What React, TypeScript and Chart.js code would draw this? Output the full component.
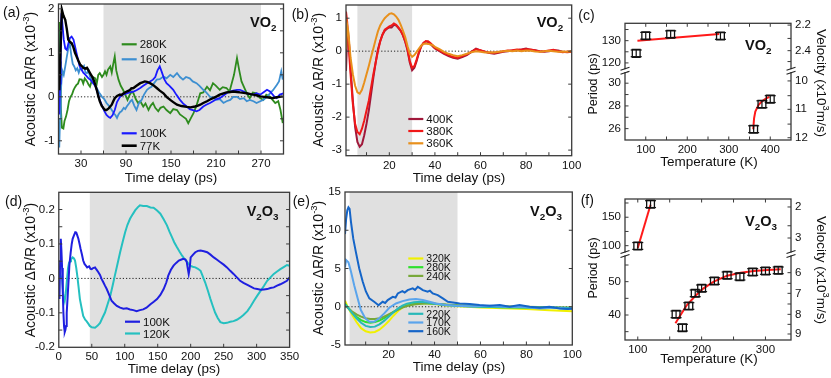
import React, { useEffect, useRef } from 'react';
import { Chart, registerables } from 'chart.js';

Chart.register(...registerables);

const FONT = "'Liberation Sans', Arial, Helvetica, sans-serif";
type P = [number, number];

// ---------------- (a) VO2 low temperature: time (ps) vs acoustic dR/R (x1e-3)
const a77: P[] = [[1,0.15],[3,1.2],[4.5,1.98],[6.5,1.85],[9,1.75],[11,1.55],[13,1.3],[15,1.25],[17.5,1.22],[20,1.12],[22,1.0],[24,0.92],[26.5,0.82],[29,0.73],[31,0.7],[33,0.66],[35.5,0.64],[38,0.66],[40,0.6],[42,0.54],[44,0.48],[46,0.42],[48.5,0.3],[51,0.16],[53,0.02],[55,-0.1],[57.5,-0.2],[60,-0.26],[62,-0.3],[64,-0.3],[66.5,-0.27],[69,-0.22],[71,-0.18],[73,-0.1],[75,-0.03],[78,0.02],[82,0.05],[84,0.04],[86,0.07],[91,0.12],[95,0.15],[97,0.19],[100,0.2],[104,0.25],[109,0.31],[112,0.33],[115,0.35],[118,0.34],[122,0.31],[126,0.27],[131,0.2],[135,0.14],[140,0.08],[144,0.0],[149,-0.07],[153,-0.12],[158,-0.18],[164,-0.21],[171,-0.23],[176,-0.24],[182,-0.22],[186,-0.2],[189,-0.18],[193,-0.14],[198,-0.1],[202,-0.06],[206,-0.03],[211,0.01],[215,0.05],[220,0.08],[224,0.1],[229,0.11],[233,0.12],[238,0.11],[242,0.1],[247,0.09],[251,0.08],[256,0.06],[260,0.05],[265,0.03],[269,0.01],[274,0.0],[278,-0.01],[282,-0.02],[286,-0.03],[291,-0.01],[295,0.0],[299,0.01]];
const a100: P[] = [[1,-0.4],[2,0.3],[3,1.5],[4,1.9],[5,1.7],[7,1.3],[9,1.1],[11,1.07],[13,1.2],[15,1.33],[17.5,1.37],[20,1.3],[22,1.15],[24,1.0],[26,0.85],[28,0.7],[31,0.61],[33,0.55],[36,0.5],[40,0.42],[43,0.38],[46,0.31],[49,0.25],[52,0.1],[55,-0.07],[58,-0.2],[61,-0.32],[64,-0.41],[67,-0.46],[69,-0.48],[72,-0.42],[75,-0.3],[78,-0.12],[82,0.0],[86,0.05],[91,0.08],[95,0.1],[100,0.12],[104,0.15],[109,0.2],[113,0.25],[118,0.31],[122,0.35],[126,0.39],[129,0.45],[132,0.6],[135,0.69],[138,0.55],[141,0.4],[144,0.31],[148,0.25],[153,0.16],[157,0.05],[162,-0.07],[166,-0.15],[171,-0.22],[175,-0.28],[179,-0.3],[184,-0.33],[188,-0.3],[193,-0.22],[197,-0.18],[202,-0.14],[206,-0.1],[211,-0.05],[215,-0.03],[220,0.03],[224,0.08],[229,0.12],[233,0.14],[238,0.16],[242,0.16],[247,0.12],[251,0.08],[255,0.06],[260,0.05],[264,0.08],[269,0.05],[273,0.1],[278,0.16],[282,0.12],[287,0.02],[291,-0.03],[295,0.05],[300,0.08]];
const a160: P[] = [[1,-1.15],[2,-0.5],[3,0.1],[5,0.6],[7,0.5],[9,0.69],[11,0.9],[13,1.1],[15,1.22],[17,0.95],[19,0.75],[21,0.69],[23,0.6],[25,0.65],[27,0.55],[29,0.65],[31,0.62],[34,0.7],[36,0.55],[38,0.54],[40,0.6],[42,0.45],[44,0.39],[47,0.35],[49,0.25],[51,0.2],[54,0.1],[56,0.05],[58,0.0],[61,-0.05],[64,-0.14],[67,-0.2],[69,-0.25],[71,-0.3],[74,-0.38],[76,-0.42],[78,-0.48],[80,-0.4],[82,-0.35],[84,-0.33],[87,-0.25],[89,-0.28],[91,-0.22],[94,-0.15],[96,-0.1],[98,-0.07],[101,-0.2],[104,-0.3],[107,-0.15],[111,-0.07],[114,0.05],[118,0.16],[121,0.2],[124,0.23],[127,0.3],[131,0.39],[135,0.4],[140,0.46],[144,0.42],[149,0.5],[153,0.45],[158,0.54],[162,0.45],[166,0.39],[170,0.45],[175,0.42],[179,0.35],[184,0.31],[188,0.25],[193,0.16],[197,0.1],[202,0.0],[206,-0.02],[211,-0.07],[215,-0.05],[220,-0.14],[224,-0.1],[229,-0.07],[233,0.0],[238,0.0],[242,-0.05],[247,-0.03],[251,-0.1],[255,-0.07],[260,-0.1],[264,-0.14],[269,-0.1],[273,-0.07],[278,0.0],[282,0.08],[286,0.15],[291,0.27],[294,0.35],[297,0.58],[299,0.39]];
const a280: P[] = [[1,1.7],[2,0.8],[3,-0.2],[4.5,-0.7],[6.5,-0.72],[8,-0.55],[10,-0.45],[12,-0.3],[14,-0.1],[16,0.0],[18,0.05],[20,0.15],[22,0.22],[24,0.27],[26,0.3],[28,0.4],[31,0.39],[33,0.3],[35,0.42],[38,0.35],[40,0.28],[42,0.23],[44,0.35],[46,0.45],[49,0.42],[51,0.3],[53,0.5],[55,0.54],[58,0.45],[60,0.5],[62,0.58],[64,0.5],[66,0.62],[69,0.69],[71,0.55],[73,0.75],[75,0.92],[77,0.6],[80,0.39],[83,0.25],[86,0.16],[89,0.05],[92,-0.07],[95,0.05],[98,0.12],[100,0.08],[103,-0.05],[106,-0.14],[109,-0.1],[113,-0.22],[116,-0.15],[120,-0.3],[123,-0.2],[126,-0.14],[129,-0.25],[133,-0.33],[136,-0.25],[140,-0.22],[144,-0.3],[149,-0.37],[153,-0.28],[158,-0.3],[162,-0.4],[166,-0.45],[170,-0.5],[173,-0.6],[176,-0.5],[180,-0.37],[184,-0.2],[189,0.08],[193,0.1],[198,0.23],[202,0.15],[206,0.31],[210,0.25],[215,0.16],[219,0.22],[224,0.2],[228,0.12],[231,0.31],[234,0.5],[238,0.88],[241,0.6],[244,0.35],[249,0.16],[252,0.05],[255,-0.03],[259,0.1],[264,0.08],[268,-0.02],[273,-0.07],[277,0.05],[282,0.0],[286,-0.08],[289,-0.14],[293,-0.1],[296,-0.3],[299,-0.6]];

// ---------------- (b) VO2 high temperature
const b400: P[] = [[1,-0.6],[1.5,0.4],[2,0.5],[2.5,0.1],[3,-0.5],[4,-1.5],[5,-2.3],[6,-2.75],[7,-2.9],[8,-2.82],[9,-2.55],[10,-2.2],[11,-1.8],[12,-1.3],[13,-0.8],[14,-0.35],[15,0.05],[16,0.3],[17,0.5],[18,0.62],[19,0.68],[20,0.72],[21,0.72],[22,0.8],[23,0.78],[24,0.7],[25,0.62],[26,0.48],[27,0.28],[28,0.02],[29,-0.35],[30,-0.58],[31,-0.5],[32,-0.3],[33,-0.05],[34,0.15],[35,0.25],[36,0.3],[37,0.28],[38,0.22],[39,0.15],[40,0.08],[42,0.0],[44,-0.08],[46,-0.15],[48,-0.2],[50,-0.23],[52,-0.18],[54,-0.12],[56,-0.02],[58,0.08],[60,0.02],[62,-0.02],[64,-0.06],[66,-0.08],[68,-0.05],[70,-0.02],[72,0.0],[74,0.02],[76,0.03],[78,0.05],[80,0.08],[82,0.04],[84,0.03],[86,0.0],[88,-0.02],[90,0.0],[92,0.03],[94,0.02],[96,-0.02],[98,-0.03],[100,-0.02]];
const b380: P[] = [[1,1.2],[1.5,0.9],[2,0.4],[2.5,-0.2],[3,-0.7],[4,-1.6],[5,-2.2],[6,-2.45],[7,-2.52],[8,-2.35],[9,-2.1],[10,-1.8],[11,-1.5],[12,-1.1],[13,-0.7],[14,-0.35],[15,0.0],[16,0.3],[17,0.5],[18,0.65],[19,0.7],[20,0.75],[21,0.78],[22,0.84],[23,0.8],[24,0.72],[25,0.62],[26,0.48],[27,0.3],[28,0.05],[29,-0.3],[30,-0.5],[31,-0.45],[32,-0.25],[33,-0.02],[34,0.15],[35,0.25],[36,0.3],[37,0.3],[38,0.25],[39,0.18],[40,0.1],[42,0.02],[44,-0.06],[46,-0.12],[48,-0.18],[50,-0.2],[52,-0.15],[54,-0.1],[56,-0.02],[58,0.06],[60,0.03],[62,-0.02],[64,-0.05],[66,-0.05],[68,-0.03],[70,0.0],[72,0.02],[74,0.03],[76,0.05],[78,0.04],[80,0.06],[82,0.05],[84,0.02],[86,-0.01],[88,0.0],[90,0.02],[92,0.04],[94,0.0],[96,-0.03],[98,-0.02],[100,-0.01]];
const b360: P[] = [[1,0.05],[1.5,0.8],[2,0.6],[2.5,0.2],[3,-0.2],[4,-0.7],[5,-1.05],[6,-1.25],[7,-1.29],[8,-1.17],[9,-0.95],[10,-0.7],[11,-0.45],[12,-0.18],[13,0.08],[14,0.35],[15,0.6],[16,0.78],[17,0.9],[18,1.0],[19,1.07],[20,1.13],[21,1.15],[22,1.12],[23,1.05],[24,0.95],[25,0.8],[26,0.62],[27,0.42],[28,0.15],[29,-0.08],[30,-0.17],[31,-0.12],[32,-0.02],[33,0.08],[34,0.17],[35,0.22],[36,0.23],[37,0.22],[38,0.2],[39,0.18],[40,0.13],[42,0.06],[44,-0.02],[46,-0.08],[48,-0.12],[50,-0.15],[52,-0.12],[54,-0.08],[56,-0.03],[58,0.0],[60,-0.02],[62,-0.04],[64,-0.03],[66,-0.04],[68,-0.02],[70,0.0],[72,0.01],[74,0.0],[76,0.02],[78,0.0],[80,0.02],[82,0.01],[84,-0.01],[86,-0.02],[88,0.0],[90,0.01],[92,0.0],[94,-0.02],[96,-0.01],[98,-0.02],[100,0.0]];

// ---------------- (c) VO2 period vs temperature
const cPtsTop: P[] = [[77,124.3],[100,132.2],[160,132.9],[280,132.1]];
const cErrTop = [1.5, 1.5, 1.5, 1.5];
const cPtsBot: P[] = [[360,25.95],[380,28.15],[400,28.6]];
const cErrBot = [0.3, 0.3, 0.3];
const cFitTop: P[] = [[80,130.0],[277,133.0]];
const cFitBot: P[] = [[359,25.95],[361,26.9],[364,27.5],[372,28.1],[380,28.4],[392,28.7],[398,28.8]];
const cVelTopPos = [137.0, 131.0, 125.5, 120.6];
const cVelTopLbl = ['2.2', '', '2.4', ''];
const cVelBotPos = [30.2, 28.9, 27.7, 26.4, 25.2];
const cVelBotLbl = ['10', '', '11', '', '12'];

// ---------------- (d) V2O3 low temperature
const d100: P[] = [[1,-0.06],[2,0.05],[3,0.115],[4,0.08],[5,0.03],[6,-0.04],[7,-0.1],[8,-0.14],[9,-0.156],[10,-0.15],[11,-0.138],[12,-0.1],[13.5,-0.05],[15,0.0],[16,0.037],[18,0.075],[19.6,0.1],[21,0.115],[23,0.125],[25,0.134],[26.5,0.133],[28,0.125],[29.7,0.115],[31.5,0.1],[33,0.086],[35,0.07],[37,0.052],[39,0.042],[41,0.037],[43,0.032],[46,0.035],[48,0.028],[50,0.027],[52,0.03],[55,0.032],[57,0.026],[60,0.018],[62.5,0.01],[65,-0.002],[67.5,-0.011],[70,-0.021],[72.5,-0.03],[75,-0.041],[77.5,-0.053],[80,-0.065],[84,-0.073],[88,-0.08],[93,-0.085],[98,-0.088],[103,-0.087],[108,-0.09],[113,-0.092],[118,-0.095],[123,-0.092],[128,-0.09],[133,-0.085],[139,-0.075],[144,-0.068],[149,-0.06],[154,-0.048],[159,-0.031],[163,-0.012],[166,0.008],[170,0.025],[174,0.037],[178,0.045],[182,0.052],[186,0.055],[189,0.057],[192,0.055],[194,0.048],[195.5,0.03],[197,0.013],[198.5,0.03],[200,0.061],[204,0.07],[207,0.076],[211,0.08],[215,0.081],[220,0.079],[225,0.076],[230,0.069],[235,0.061],[240,0.054],[245,0.047],[250,0.04],[255,0.032],[260,0.022],[265,0.013],[270,0.003],[275,-0.007],[280,-0.013],[286,-0.019],[291,-0.024],[296,-0.029],[301,-0.031],[306,-0.033],[311,-0.032],[316,-0.031],[321,-0.028],[326,-0.026],[331,-0.021],[336,-0.017],[341,-0.012],[346,-0.007],[350,0.003]];
const d120: P[] = [[1,0.02],[3,0.005],[5,0.0],[7,-0.05],[9,-0.065],[10.5,-0.045],[12,-0.012],[14,0.03],[15.5,0.045],[17,0.05],[18.5,0.055],[21,0.061],[23,0.058],[24.6,0.052],[26.5,0.03],[28,0.008],[30,-0.025],[32,-0.06],[34.5,-0.085],[37,-0.109],[40,-0.12],[42,-0.124],[45,-0.132],[47,-0.138],[50,-0.142],[55,-0.143],[59,-0.137],[62.6,-0.129],[66,-0.115],[70,-0.099],[74,-0.075],[78,-0.051],[81.5,-0.022],[85,0.008],[89,0.042],[93,0.076],[97,0.107],[100.6,0.134],[104,0.155],[108,0.173],[112,0.186],[116,0.198],[120,0.207],[123,0.212],[128,0.21],[133.5,0.21],[139,0.206],[143.7,0.205],[149,0.197],[154,0.188],[159,0.172],[164,0.154],[168,0.135],[171.6,0.12],[175,0.105],[179,0.091],[183,0.078],[187,0.066],[190,0.058],[193,0.052],[196,0.044],[199,0.037],[203,0.034],[207,0.032],[211,0.028],[215,0.022],[218.5,0.005],[222,-0.012],[226,-0.035],[230,-0.06],[233.5,-0.08],[237,-0.099],[241,-0.115],[245,-0.127],[250,-0.13],[255,-0.129],[260,-0.126],[265,-0.124],[270,-0.12],[275,-0.114],[280,-0.106],[286,-0.095],[291,-0.081],[296,-0.065],[301,-0.05],[306,-0.036],[311,-0.022],[316,-0.007],[321,0.003],[326,0.013],[331,0.02],[336,0.027],[341,0.033],[346,0.039],[350,0.037]];

// ---------------- (e) V2O3 higher temperature
const e160: P[] = [[1,9.5],[1.5,11.5],[2,12.6],[2.5,13.0],[3,12.8],[3.6,11.1],[4.6,8.9],[5.7,7.2],[7.2,5.0],[8.7,3.3],[10.1,2.0],[11.6,1.1],[13.7,0.65],[15.6,0.2],[17.4,0.65],[18.5,0.5],[19.6,0.87],[21.8,1.3],[23,1.2],[24,1.74],[26,2.04],[27,1.85],[28.3,2.17],[30.5,2.4],[31.5,2.2],[32.7,2.6],[33.8,2.4],[34.9,2.17],[37,1.96],[38,2.1],[39.2,1.74],[41.4,1.52],[43.6,1.09],[45.8,0.65],[48,0.57],[50.9,0.43],[55.3,0.35],[59.6,0.22],[64,0.13],[68.4,0.22],[72.7,0.0],[77,0.22],[81.4,0.0],[85.8,-0.13],[90,0.0],[94.5,-0.22],[98,-0.3],[100,-0.25]];
const e170: P[] = [[1,5.2],[1.5,6.1],[2.5,5.8],[3.6,4.6],[5,2.8],[6.5,1.1],[7.9,-0.43],[9.8,-1.5],[11.6,-1.96],[13.7,-1.96],[15.9,-1.5],[18.1,-0.87],[20.3,-0.13],[23.2,0.43],[26.1,0.74],[29,0.96],[31.9,1.0],[34.9,0.87],[37.8,0.65],[40.7,0.43],[45,0.22],[49.4,0.13],[56.7,0.04],[64,0.13],[71,0.0],[78.5,-0.04],[85.8,-0.22],[93,-0.13],[98,-0.3],[100,-0.2]];
const e220: P[] = [[1,0.3],[2,0.0],[4,-0.8],[6,-1.5],[8,-2.1],[10,-2.5],[12,-2.65],[14,-2.6],[16,-2.3],[18,-1.85],[20,-1.3],[22,-0.75],[24,-0.25],[26,0.15],[28,0.4],[31,0.6],[34,0.65],[37,0.55],[40,0.4],[45,0.2],[50,0.1],[60,0.0],[70,-0.05],[80,-0.1],[90,-0.1],[100,-0.15]];
const e240: P[] = [[1,0.2],[2,-0.1],[4,-0.6],[6,-1.0],[8,-1.3],[10,-1.5],[12,-1.6],[14,-1.6],[16,-1.5],[18,-1.3],[20,-1.0],[22,-0.7],[24,-0.4],[26,-0.1],[28,0.1],[31,0.3],[34,0.4],[37,0.45],[40,0.4],[45,0.3],[50,0.2],[60,0.1],[70,0.05],[80,0.0],[90,-0.05],[100,-0.1]];
const e280: P[] = [[1,0.4],[2,0.0],[4,-0.7],[6,-1.3],[8,-1.75],[10,-2.0],[12,-2.1],[14,-2.0],[16,-1.8],[18,-1.5],[20,-1.1],[22,-0.7],[24,-0.35],[26,-0.05],[28,0.15],[31,0.35],[34,0.45],[37,0.45],[40,0.4],[45,0.25],[50,0.15],[60,0.0],[70,-0.05],[80,-0.1],[90,-0.15],[100,-0.2]];
const e320: P[] = [[1,0.8],[2,0.1],[4,-1.0],[6,-2.0],[8,-2.8],[10,-3.2],[12,-3.35],[14,-3.3],[16,-3.0],[18,-2.5],[20,-1.9],[22,-1.2],[24,-0.6],[26,-0.1],[28,0.25],[31,0.45],[34,0.5],[37,0.45],[40,0.35],[45,0.15],[50,0.05],[60,-0.1],[70,-0.2],[80,-0.3],[90,-0.45],[100,-0.6]];

// ---------------- (f) V2O3 period vs temperature
const fPtsTop: P[] = [[100,99.5],[120,173]];
const fErrTop = [6, 6];
const fPtsBot: P[] = [[160,40.2],[170,36.2],[180,42.7],[190,46.5],[200,48.0],[220,50.2],[240,51.9],[260,51.5],[280,52.9],[300,53.2],[320,53.4]];
const fErrBot = [1, 1, 1, 1, 1, 1, 1, 1, 1, 1, 1];
const fFitTop: P[] = [[100,96],[120,172]];
const fFitBot: P[] = [[159,37.5],[167,40.0],[177,43.0],[190,45.7],[203,48.0],[219,50.0],[240,51.8],[261,52.7],[282,53.2],[303,53.5],[324,53.7]];
const fVelTopPos = [168, 135, 113.5];
const fVelTopLbl = ['2', '', '3'];
const fVelBotPos = [52.7, 49.5, 46.5, 43.3, 40.2, 37.2, 34.3];
const fVelBotLbl = ['6', '', '7', '', '8', '', '9'];

// ---------------- helpers
const isMult = (v: number, step: number) => Math.abs(v / step - Math.round(v / step)) < 1e-6;
const fmt = (v: number) => String(parseFloat(Number(v).toFixed(4)));
const TICKFONT = { family: FONT, size: 11.5 };

function xAxis(min: number, max: number, step: number, every: number, offset = 0) {
  return {
    type: 'linear', position: 'bottom', min, max,
    grid: { display: false, drawTicks: false }, border: { display: false },
    ticks: {
      stepSize: step, includeBounds: false, autoSkip: false, maxRotation: 0, minRotation: 0,
      padding: 3, color: '#111', font: TICKFONT,
      callback: (v: number) => (isMult(v - offset, every) ? fmt(v) : ''),
    },
    afterFit: (s: any) => { s.height = 25; },
  };
}
function yAxis(min: number, max: number, step: number, every: number, extra: any = {}) {
  return {
    type: 'linear', position: 'left', min, max,
    grid: { display: false, drawTicks: false }, border: { display: false },
    ticks: {
      stepSize: step, includeBounds: false, autoSkip: false, padding: 4, color: '#111', font: TICKFONT,
      callback: (v: number) => (isMult(v, every) ? fmt(v) : ''),
    },
    afterFit: (s: any) => { s.width = 40; },
    ...extra,
  };
}
function rAxis(min: number, max: number, pos: number[], lbl: string[], extra: any = {}) {
  return {
    type: 'linear', position: 'right', min, max,
    grid: { display: false, drawTicks: false }, border: { display: false },
    ticks: { autoSkip: false, padding: 4, color: '#111', font: TICKFONT, callback: (_v: number, i: number) => lbl[i] ?? '' },
    afterBuildTicks: (s: any) => { s.ticks = pos.map((value) => ({ value })); },
    afterFit: (s: any) => { s.width = 40; },
    ...extra,
  };
}
const ln = (d: P[], color: string, w = 1.8, yAxisID = 'y') => ({
  data: d.map(([x, y]) => ({ x, y })), borderColor: color, backgroundColor: color, borderWidth: w,
  showLine: true, pointRadius: 0, pointHoverRadius: 0, tension: 0, yAxisID, xAxisID: 'x',
});
const pts = (d: P[], errs: number[], yAxisID: string) => ({
  data: d.map(([x, y]) => ({ x, y })), showLine: false, pointStyle: 'rect', pointRadius: 5.5,
  borderColor: '#111', backgroundColor: 'rgba(0,0,0,0)', borderWidth: 1.3, pointBorderWidth: 1.3,
  errs, yAxisID, xAxisID: 'x',
});

type Seg = { t: string; s?: 'sub' | 'sup' };
type TextItem = { segs: Seg[]; x: number; y: number; size: number; bold?: boolean; rot?: number; align?: string };
type LegItem = { label: string; color: string; x: number; y: number; w?: number; size?: number };
interface Panel {
  key: string; L: number; T: number; R: number; B: number; rightW: number;
  scales: any; datasets: any[]; shade?: [number, number]; zero?: boolean;
  mirrorY?: boolean; mirrorX?: boolean; breaks?: boolean; texts: TextItem[]; legend: LegItem[];
}

const acoustic: Seg[] = [{ t: 'Acoustic ΔR/R (x10' }, { t: '-3', s: 'sup' }, { t: ')' }];
const vo2: Seg[] = [{ t: 'VO' }, { t: '2', s: 'sub' }];
const v2o3: Seg[] = [{ t: 'V' }, { t: '2', s: 'sub' }, { t: 'O' }, { t: '3', s: 'sub' }];
const velocity: Seg[] = [{ t: 'Velocity (x10' }, { t: '3', s: 'sup' }, { t: 'm/s)' }];

const C = {
  a280: '#2e8b1e', a160: '#3d8fd1', a100: '#1a1aff', a77: '#000000',
  b400: '#a0183a', b380: '#f01818', b360: '#e8901c',
  d100: '#1f1fe0', d120: '#25c0c0',
  e320: '#f0f000', e280: '#2de02d', e240: '#78a83a', e220: '#28b8b8', e170: '#5aa4ec', e160: '#1565c8',
  fit: '#ff1a1a',
};

const PANELS: Panel[] = [
  {
    key: 'a', L: 58.5, T: 4, R: 283.5, B: 154, rightW: 0, shade: [60, 270], zero: true, mirrorY: true,
    scales: { x: xAxis(0, 300, 30, 60, 30), y: yAxis(-1.3, 2.11, 0.5, 1) },
    datasets: [ln(a77, C.a77, 2.4), ln(a100, C.a100), ln(a160, C.a160), ln(a280, C.a280)],
    texts: [
      { segs: [{ t: '(a)' }], x: 3, y: 16.5, size: 14 },
      { segs: vo2, x: 250, y: 26.5, size: 14.5, bold: true },
      { segs: acoustic, x: 35, y: 79, size: 14, rot: -90, align: 'center' },
      { segs: [{ t: 'Time delay (ps)' }], x: 171, y: 182, size: 13.5, align: 'center' },
    ],
    legend: [
      { label: '280K', color: C.a280, x: 121.7, y: 44.3 },
      { label: '160K', color: C.a160, x: 121.7, y: 59.3 },
      { label: '100K', color: C.a100, x: 121.7, y: 133.3 },
      { label: '77K', color: C.a77, x: 121.7, y: 145.7, w: 2.6 },
    ],
  },
  {
    key: 'b', L: 346, T: 5, R: 571.7, B: 155.7, rightW: 0, shade: [6, 30], zero: true, mirrorY: true,
    scales: { x: xAxis(1, 100, 10, 20), y: yAxis(-3.17, 1.4, 1, 1) },
    datasets: [ln(b360, C.b360, 2), ln(b380, C.b380, 2), ln(b400, C.b400, 2)],
    texts: [
      { segs: [{ t: '(b)' }], x: 291.7, y: 18.7, size: 14 },
      { segs: vo2, x: 536.7, y: 27, size: 14.5, bold: true },
      { segs: acoustic, x: 323, y: 80, size: 14, rot: -90, align: 'center' },
      { segs: [{ t: 'Time delay (ps)' }], x: 459, y: 182, size: 13.5, align: 'center' },
    ],
    legend: [
      { label: '400K', color: C.b400, x: 408.3, y: 119 },
      { label: '380K', color: C.b380, x: 408.3, y: 131 },
      { label: '360K', color: C.b360, x: 408.3, y: 143.3 },
    ],
  },
  {
    key: 'c', L: 625, T: 23.3, R: 791, B: 140, rightW: 40, mirrorX: true, breaks: true,
    scales: {
      x: xAxis(50, 450, 50, 100),
      yBot: yAxis(25, 31.1, 1, 2, { stack: 'L', stackWeight: 69.3 }),
      yTop: yAxis(116.5, 137.8, 5, 10, { stack: 'L', stackWeight: 47.4 }),
      rTop: rAxis(116.5, 137.8, cVelTopPos, cVelTopLbl, { stack: 'R', stackWeight: 47.4 }),
      rBot: rAxis(25, 31.1, cVelBotPos, cVelBotLbl, { stack: 'R', stackWeight: 69.3 }),
    },
    datasets: [
      pts(cPtsTop, cErrTop, 'yTop'), pts(cPtsBot, cErrBot, 'yBot'),
      ln(cFitTop, C.fit, 2, 'yTop'), ln(cFitBot, C.fit, 2, 'yBot'),
    ],
    texts: [
      { segs: [{ t: '(c)' }], x: 578.3, y: 19.7, size: 14 },
      { segs: vo2, x: 745, y: 50, size: 14.5, bold: true },
      { segs: [{ t: 'Period (ps)' }], x: 597, y: 84, size: 12.5, rot: -90, align: 'center' },
      { segs: velocity, x: 817, y: 83, size: 13.5, rot: 90, align: 'center' },
      { segs: [{ t: 'Temperature (K)' }], x: 709, y: 166.4, size: 13.5, align: 'center' },
    ],
    legend: [],
  },
  {
    key: 'd', L: 58.8, T: 192.3, R: 289.6, B: 347.3, rightW: 0, shade: [47, 350], zero: true, mirrorY: true,
    scales: { x: xAxis(0, 350, 50, 50), y: yAxis(-0.2, 0.25, 0.05, 0.1) },
    datasets: [ln(d100, C.d100, 2), ln(d120, C.d120, 2)],
    texts: [
      { segs: [{ t: '(d)' }], x: 5, y: 206, size: 14 },
      { segs: v2o3, x: 246.7, y: 215.7, size: 14.5, bold: true },
      { segs: acoustic, x: 35, y: 270, size: 14, rot: -90, align: 'center' },
      { segs: [{ t: 'Time delay (ps)' }], x: 174, y: 373, size: 13.5, align: 'center' },
    ],
    legend: [
      { label: '100K', color: C.d100, x: 125, y: 321.7 },
      { label: '120K', color: C.d120, x: 125, y: 333.5 },
    ],
  },
  {
    key: 'e', L: 345, T: 192, R: 572.3, B: 345, rightW: 0, shade: [3, 50], zero: true, mirrorY: true,
    scales: { x: xAxis(1, 100, 10, 20), y: yAxis(-5, 15, 5, 5) },
    datasets: [ln(e160, C.e160, 2), ln(e170, C.e170, 2), ln(e220, C.e220, 2), ln(e240, C.e240, 2), ln(e280, C.e280, 2), ln(e320, C.e320, 2)],
    texts: [
      { segs: [{ t: '(e)' }], x: 292.7, y: 206, size: 14 },
      { segs: v2o3, x: 530, y: 215.7, size: 14.5, bold: true },
      { segs: acoustic, x: 323, y: 268, size: 14, rot: -90, align: 'center' },
      { segs: [{ t: 'Time delay (ps)' }], x: 459, y: 371.4, size: 13.5, align: 'center' },
    ],
    legend: [
      { label: '320K', color: C.e320, x: 408.3, y: 258.5, size: 10.5 },
      { label: '280K', color: C.e280, x: 408.3, y: 267.2, size: 10.5 },
      { label: '240K', color: C.e240, x: 408.3, y: 275.9, size: 10.5 },
      { label: '220K', color: C.e220, x: 408.3, y: 313.8, size: 10.5 },
      { label: '170K', color: C.e170, x: 408.3, y: 322.5, size: 10.5 },
      { label: '160K', color: C.e160, x: 408.3, y: 331.2, size: 10.5 },
    ],
  },
  {
    key: 'f', L: 625, T: 199, R: 791, B: 340, rightW: 40, mirrorX: true, breaks: true,
    scales: {
      x: xAxis(80, 340, 50, 100),
      yBot: yAxis(32.5, 58.3, 5, 10, { stack: 'L', stackWeight: 86 }),
      yTop: yAxis(85.4, 182, 25, 50, { stack: 'L', stackWeight: 55 }),
      rTop: rAxis(85.4, 182, fVelTopPos, fVelTopLbl, { stack: 'R', stackWeight: 55 }),
      rBot: rAxis(32.5, 58.3, fVelBotPos, fVelBotLbl, { stack: 'R', stackWeight: 86 }),
    },
    datasets: [
      pts(fPtsTop, fErrTop, 'yTop'), pts(fPtsBot, fErrBot, 'yBot'),
      ln(fFitTop, C.fit, 2, 'yTop'), ln(fFitBot, C.fit, 2, 'yBot'),
    ],
    texts: [
      { segs: [{ t: '(f)' }], x: 580.7, y: 204.7, size: 14 },
      { segs: v2o3, x: 745, y: 225.7, size: 14.5, bold: true },
      { segs: [{ t: 'Period (ps)' }], x: 597, y: 268, size: 12.5, rot: -90, align: 'center' },
      { segs: velocity, x: 817, y: 270, size: 13.5, rot: 90, align: 'center' },
      { segs: [{ t: 'Temperature (K)' }], x: 709, y: 363, size: 13.5, align: 'center' },
    ],
    legend: [],
  },
];

function drawRich(ctx: CanvasRenderingContext2D, it: TextItem, ox: number, oy: number) {
  const { segs, size, bold, rot, align } = it;
  ctx.save();
  ctx.translate(it.x - ox, it.y - oy);
  if (rot) ctx.rotate((rot * Math.PI) / 180);
  const font = (s: number) => `${bold ? 'bold ' : ''}${s}px ${FONT}`;
  const sizes = segs.map((s) => (s.s ? size * 0.68 : size));
  const widths = segs.map((s, i) => { ctx.font = font(sizes[i]); return ctx.measureText(s.t).width; });
  const total = widths.reduce((a, b) => a + b, 0);
  let cx = align === 'center' ? -total / 2 : align === 'right' ? -total : 0;
  ctx.fillStyle = '#111';
  ctx.textAlign = 'left';
  ctx.textBaseline = 'alphabetic';
  segs.forEach((s, i) => {
    ctx.font = font(sizes[i]);
    const dy = s.s === 'sub' ? size * 0.3 : s.s === 'sup' ? -size * 0.42 : 0;
    ctx.fillText(s.t, cx, dy);
    cx += widths[i];
  });
  ctx.restore();
}

function buildConfig(p: Panel, cl: number, ct: number, cw: number, ch: number) {
  const line = (ctx: CanvasRenderingContext2D, x1: number, y1: number, x2: number, y2: number) => {
    ctx.beginPath(); ctx.moveTo(x1, y1); ctx.lineTo(x2, y2); ctx.stroke();
  };
  const deco = {
    id: 'deco_' + p.key,
    beforeDatasetsDraw(chart: any) {
      const { ctx, chartArea: ca } = chart;
      ctx.save();
      if (p.shade) {
        const xs = chart.scales.x;
        const x1 = xs.getPixelForValue(p.shade[0]);
        const x2 = Math.min(xs.getPixelForValue(p.shade[1]), ca.right);
        ctx.fillStyle = '#e0e0e0';
        ctx.fillRect(x1, ca.top, x2 - x1, ca.bottom - ca.top);
      }
      if (p.zero) {
        const y0 = chart.scales.y.getPixelForValue(0);
        ctx.strokeStyle = '#222'; ctx.lineWidth = 1; ctx.setLineDash([1.2, 2]);
        line(ctx, ca.left, y0, ca.right, y0);
        ctx.setLineDash([]);
      }
      ctx.restore();
    },
    afterDatasetsDraw(chart: any) {
      const { ctx, chartArea: ca } = chart;
      ctx.save();
      chart.data.datasets.forEach((ds: any, di: number) => {
        if (!ds.errs) return;
        const meta = chart.getDatasetMeta(di);
        const ys = chart.scales[ds.yAxisID];
        ctx.strokeStyle = '#111'; ctx.lineWidth = 1.2;
        meta.data.forEach((el: any, i: number) => {
          const v = ds.data[i].y; const e = ds.errs[i];
          const y1 = ys.getPixelForValue(v + e); const y2 = ys.getPixelForValue(v - e);
          line(ctx, el.x, y1, el.x, y2);
          line(ctx, el.x - 5.5, y1, el.x + 5.5, y1);
          line(ctx, el.x - 5.5, y2, el.x + 5.5, y2);
        });
      });
      ctx.strokeStyle = '#3a3a3a'; ctx.lineWidth = 1.3;
      ctx.strokeRect(ca.left, ca.top, ca.right - ca.left, ca.bottom - ca.top);
      const TL = 3.5;
      ctx.lineWidth = 1;
      for (const s of Object.values(chart.scales) as any[]) {
        for (const t of s.ticks) {
          const px = s.getPixelForValue(t.value);
          if (s.axis === 'x') {
            if (px < ca.left + 0.6 || px > ca.right - 0.6) continue;
            line(ctx, px, ca.bottom, px, ca.bottom - TL);
            if (p.mirrorX) line(ctx, px, ca.top, px, ca.top + TL);
          } else {
            if (px < s.top + 0.6 || px > s.bottom - 0.6) continue;
            if (s.position === 'left') {
              line(ctx, ca.left, px, ca.left + TL, px);
              if (p.mirrorY) line(ctx, ca.right, px, ca.right - TL, px);
            } else {
              line(ctx, ca.right, px, ca.right - TL, px);
            }
          }
        }
      }
      if (p.breaks) {
        const yb = chart.scales.yTop.bottom;
        for (const x of [ca.left, ca.right]) {
          ctx.fillStyle = '#ffffff';
          ctx.fillRect(x - 2.5, yb - 1.5, 5, 3);
          ctx.strokeStyle = '#222'; ctx.lineWidth = 1.1;
          line(ctx, x - 4.5, yb - 0.5, x + 4.5, yb - 3.5);
          line(ctx, x - 4.5, yb + 3.5, x + 4.5, yb + 0.5);
        }
      }
      ctx.restore();
    },
    afterDraw(chart: any) {
      const { ctx } = chart;
      ctx.save();
      for (const it of p.texts) drawRich(ctx, it, cl, ct);
      for (const lg of p.legend) {
        const x = lg.x - cl; const y = lg.y - ct;
        ctx.strokeStyle = lg.color; ctx.lineWidth = lg.w ?? 2.2;
        line(ctx, x, y, x + 15, y);
        ctx.fillStyle = '#111';
        const fs = lg.size ?? 11.5;
        ctx.font = `${fs}px ${FONT}`;
        ctx.textAlign = 'left'; ctx.textBaseline = 'alphabetic';
        ctx.fillText(lg.label, x + 18, y + fs * 0.36);
      }
      ctx.restore();
    },
  };
  return {
    type: 'scatter',
    data: { datasets: p.datasets },
    options: {
      responsive: false, maintainAspectRatio: false, animation: false, devicePixelRatio: 1, events: [],
      layout: {
        padding: {
          left: p.L - cl - 40,
          top: p.T - ct,
          right: cl + cw - p.R - p.rightW,
          bottom: ct + ch - p.B - 25,
        },
      },
      plugins: { legend: { display: false }, tooltip: { enabled: false }, title: { display: false } },
      scales: p.scales,
    },
    plugins: [deco],
  } as any;
}

function PanelCanvas({ p }: { p: Panel }) {
  const ref = useRef<HTMLCanvasElement>(null);
  const cl = Math.floor(p.L) - 60;
  const ct = Math.floor(p.T) - 20;
  const cw = Math.ceil(p.R) + 20 + p.rightW - cl;
  const ch = Math.ceil(p.B) + 45 - ct;
  useEffect(() => {
    const chart = new Chart(ref.current as HTMLCanvasElement, buildConfig(p, cl, ct, cw, ch));
    return () => chart.destroy();
  }, []);
  return (
    <canvas ref={ref} width={cw} height={ch}
      style={{ position: 'absolute', left: cl, top: ct, width: cw, height: ch }} />
  );
}

export default function App() {
  return (
    <div style={{ position: 'absolute', left: 0, top: 0, width: 831, height: 378, overflow: 'hidden', background: '#ffffff' }}>
      {PANELS.map((p) => <PanelCanvas key={p.key} p={p} />)}
    </div>
  );
}
